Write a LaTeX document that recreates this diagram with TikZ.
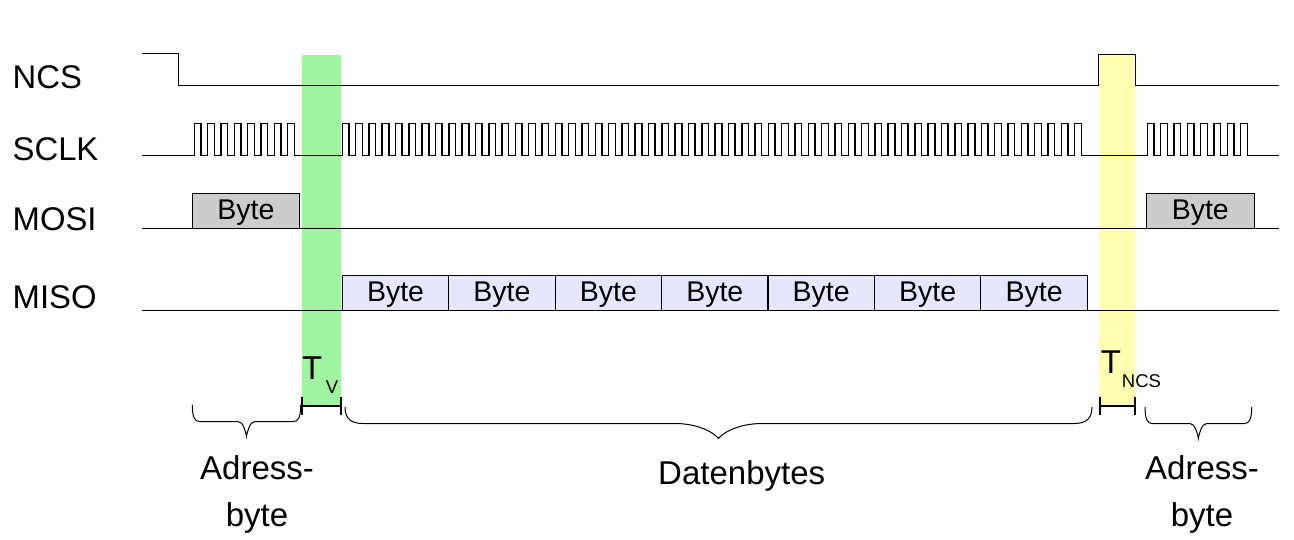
\documentclass[tikz,border=0pt]{standalone}
\usepackage{fontspec}
\setmainfont{Liberation Sans}
\definecolor{tvgreen}{RGB}{160,244,160}
\definecolor{tncsyellow}{RGB}{255,255,176}
\definecolor{mosigray}{RGB}{204,204,204}
\definecolor{misoblue}{RGB}{230,230,255}
\tikzset{
  wave/.style={line width=1.5pt, line join=miter},
  baseline/.style={line width=1.2pt},
  bytebox/.style={draw, line width=1.2pt},
  bytetext/.style={anchor=base, inner sep=0pt, font=\fontsize{28.5}{34}\selectfont},
  siglabel/.style={anchor=base west, inner sep=0pt, font=\fontsize{32.8}{38}\selectfont},
  biglabel/.style={anchor=base, inner sep=0pt, font=\fontsize{33}{40}\selectfont},
  tbig/.style={anchor=base west, inner sep=0pt, font=\fontsize{33}{40}\selectfont},
  tsub/.style={anchor=base west, inner sep=0pt, font=\fontsize{18.5}{22}\selectfont},
  bracestyle/.style={line width=1pt},
  intervalline/.style={line width=1.2pt},
  intervaltick/.style={line width=2.6pt}
}
\newcommand\spibrace[5]{%
  \pgfmathsetmacro\bxa{#1}\pgfmathsetmacro\bxb{#2}\pgfmathsetmacro\by{#3}%
  \pgfmathsetmacro\bm{(#1+#2)/2}%
  \pgfmathsetmacro\byc{#3+12}\pgfmathsetmacro\byh{#3+16.5}\pgfmathsetmacro\byt{#3+31.5}%
  \pgfmathsetmacro\byk{#3+27}%
  \pgfmathsetmacro\bha{#1+#4}\pgfmathsetmacro\bhac{#1+0.35*#4}%
  \pgfmathsetmacro\bhb{#2-#4}\pgfmathsetmacro\bhbc{#2-0.35*#4}%
  \pgfmathsetmacro\bta{(#1+#2)/2-#5}\pgfmathsetmacro\btac{(#1+#2)/2-0.4*#5}\pgfmathsetmacro\btak{(#1+#2)/2-0.08*#5}%
  \pgfmathsetmacro\btb{(#1+#2)/2+#5}\pgfmathsetmacro\btbc{(#1+#2)/2+0.4*#5}\pgfmathsetmacro\btbk{(#1+#2)/2+0.08*#5}%
  \draw[bracestyle] (\bxa,\by) .. controls (\bxa,\byc) and (\bhac,\byh) .. (\bha,\byh)
    -- (\bta,\byh) .. controls (\btac,\byh) and (\btak,\byk) .. (\bm,\byt)
    .. controls (\btbk,\byk) and (\btbc,\byh) .. (\btb,\byh)
    -- (\bhb,\byh) .. controls (\bhbc,\byh) and (\bxb,\byc) .. (\bxb,\by);
}
\begin{document}
\begin{tikzpicture}[x=1pt,y=-1pt]
\useasboundingbox (0,0) rectangle (1294,540);
% timing windows
\fill[tvgreen] (302,55) rectangle (341,406);
\fill[tncsyellow] (1099,54.3) rectangle (1135,406);
% signal labels
\node[siglabel] (lncs) at (12.5,88.5) {NCS};
\node[siglabel] (lsclk) at (12.5,160.7) {SCLK};
\node[siglabel] (lmosi) at (12.5,230.5) {MOSI};
\node[siglabel] (lmiso) at (12.5,308.3) {MISO};
% NCS
\draw[wave] (142,53.3) -- (178.7,53.3) -- (178.7,85.5) -- (1098.7,85.5) -- (1098.7,54.3)
  -- (1135.3,54.3) -- (1135.3,85.5) -- (1278.5,85.5);
% SCLK
\draw[wave] (142,155.7) -- (194.3,155.7)
  \foreach \i in {1,...,8}{ -- ++(0,-32.4) -- ++(6.67,0) -- ++(0,32.4) -- ++(6.67,0)}
  -- (342.3,155.7)
  \foreach \i in {1,...,56}{ -- ++(0,-32.4) -- ++(6.6575,0) -- ++(0,32.4) -- ++(6.6575,0)}
  -- (1147.3,155.7)
  \foreach \i in {1,...,8}{ -- ++(0,-32.4) -- ++(6.67,0) -- ++(0,32.4) -- ++(6.67,0)}
  -- (1278.5,155.7);
% MOSI
\draw[bytebox, fill=mosigray] (192.3,193.3) rectangle (299.7,228.3);
\draw[bytebox, fill=mosigray] (1146.3,193.3) rectangle (1254.3,228.3);
\node[bytetext] (mosia) at (246,219.3) {Byte};
\node[bytetext] (mosib) at (1200.3,219.3) {Byte};
\draw[baseline] (142,228.3) -- (1279,228.3);
% MISO
\foreach \k in {0,...,6}{
  \pgfmathsetmacro\xl{342.3+\k*106.43}
  \pgfmathsetmacro\xr{342.3+(\k+1)*106.43}
  \pgfmathsetmacro\xc{342.3+(\k+0.5)*106.43}
  \draw[bytebox, fill=misoblue] (\xl,275.3) rectangle (\xr,310.3);
  \node[bytetext] (miso\k) at (\xc,301.3) {Byte};
}
\draw[baseline] (142,310.3) -- (1279,310.3);
% T_V interval
\coordinate (tva) at (302,406);
\coordinate (tvb) at (341,406);
\draw[intervalline] (tva) -- (tvb);
\draw[intervaltick] ([yshift=-9pt]tva) -- ([yshift=9pt]tva);
\draw[intervaltick] ([yshift=-9pt]tvb) -- ([yshift=9pt]tvb);
\node[tbig] (tvT) at (302,379.3) {T};
\node[tsub] (tvV) at (325.7,393.3) {V};
% T_NCS interval
\coordinate (tna) at (1100,406);
\coordinate (tnb) at (1135,406);
\draw[intervalline] (tna) -- (tnb);
\draw[intervaltick] ([yshift=-9pt]tna) -- ([yshift=9pt]tna);
\draw[intervaltick] ([yshift=-9pt]tnb) -- ([yshift=9pt]tnb);
\node[tbig] (tnT) at (1100.7,373.3) {T};
\node[tsub] (tnN) at (1121.7,387.7) {NCS};
% braces
\spibrace{192.3}{300.7}{405}{7}{8.4}
\spibrace{345}{1092}{407}{18}{44}
\spibrace{1145}{1251.7}{407}{7}{8.4}
% brace labels
\node[biglabel] (adra1) at (257,479) {Adress-};
\node[biglabel] (adra2) at (257,526) {byte};
\node[biglabel] (daten) at (741.7,484.3) {Datenbytes};
\node[biglabel] (adrb1) at (1202,479) {Adress-};
\node[biglabel] (adrb2) at (1202,526) {byte};
\end{tikzpicture}
\end{document}
